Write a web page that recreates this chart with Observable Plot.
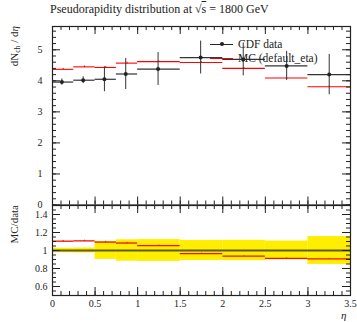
<!DOCTYPE html>
<html>
<head>
<meta charset="utf-8">
<script src="https://cdn.jsdelivr.net/npm/d3@7"></script>
<script src="https://cdn.jsdelivr.net/npm/@observablehq/plot@0.6"></script>
<style>
  body { margin: 0; background: #fff; }
  #wrap { position: relative; width: 357px; height: 322px; overflow: hidden; font-family: "Liberation Serif", serif; color: #222; }
  .abs { position: absolute; white-space: nowrap; }
  .rot { transform-origin: 0 0; transform: rotate(-90deg) translate(-100%, 0); }
  sub { font-size: 70%; vertical-align: -2px; line-height: 0; }
</style>
</head>
<body>
<div id="wrap">
  <div id="main" class="abs" style="left:0;top:0"></div>
  <div id="ratio" class="abs" style="left:0;top:200px"></div>
  <div class="abs" style="left:50px;top:3px;font-size:12px;line-height:13px">Pseudorapidity distribution at √<span style="text-decoration:overline">s</span> = 1800 GeV</div>
  <div class="abs rot" style="left:8px;top:26px;font-size:11px;line-height:12px">dN<sub>ch</sub> / d<i>η</i></div>
  <div class="abs rot" style="left:8px;top:205px;font-size:11px;line-height:12px">MC/data</div>
  <div class="abs" style="left:341px;top:309px;font-size:11px;line-height:12px"><i>η</i></div>
  <div class="abs" style="left:210px;top:43.5px;width:23px;height:1px;background:#222"></div>
  <div class="abs" style="left:219.5px;top:42px;width:4px;height:4px;border-radius:2px;background:#222"></div>
  <div class="abs" style="left:238px;top:38px;font-size:11.5px;line-height:12px">CDF data</div>
  <div class="abs" style="left:210px;top:57.5px;width:23px;height:1px;background:red"></div>
  <div class="abs" style="left:238px;top:52px;font-size:11.5px;line-height:12px">MC (default_eta)</div>
</div>
<script>
// ---- data ----
const binLo   = [0, 0.25, 0.5, 0.75, 1.0, 1.5, 2.0, 2.5, 3.0];
const binHi   = [0.25, 0.5, 0.75, 1.0, 1.5, 2.0, 2.5, 3.0, 3.5];
const dataEta = [0.11, 0.36, 0.61, 0.86, 1.24, 1.74, 2.24, 2.75, 3.25];
const dataVal = [3.96, 4.02, 4.05, 4.22, 4.38, 4.75, 4.69, 4.48, 4.20];
const dataErr = [0.10, 0.11, 0.40, 0.50, 0.53, 0.53, 0.53, 0.47, 0.65];
const mcVal   = [4.37, 4.45, 4.43, 4.57, 4.62, 4.59, 4.40, 4.09, 3.81];
const mcErr   = [0.03, 0.03, 0.03, 0.03, 0.02, 0.02, 0.02, 0.02, 0.02];
const xTicks  = [0, 0.5, 1, 1.5, 2, 2.5, 3, 3.5];
const yTicksMain  = [0, 1, 2, 3, 4, 5];
const yTicksRatio = [0.6, 0.8, 1, 1.2, 1.4];

const rows = binLo.map((lo, i) => ({
  lo, hi: binHi[i], x: dataEta[i], y: dataVal[i], e: dataErr[i],
  mc: mcVal[i], me: mcErr[i],
  r: mcVal[i] / dataVal[i], re: mcErr[i] / dataVal[i], band: dataErr[i] / dataVal[i]
}));

const W = 357, ML = 52, MR = 7;
const FW = W - ML - MR;
const ink = "#222";
const font = "Liberation Serif, serif";
const xMinor = d3.range(0, 3.5001, 0.1).map(v => +v.toFixed(2));

function frameTicks(yMaj, yMin, FH) {
  return [
    Plot.tickY(yMaj, {y: d => d, insetRight: FW - 8, stroke: ink}),
    Plot.tickY(yMin, {y: d => d, insetRight: FW - 4, stroke: ink}),
    Plot.tickY(yMaj, {y: d => d, insetLeft: FW - 8, stroke: ink}),
    Plot.tickY(yMin, {y: d => d, insetLeft: FW - 4, stroke: ink}),
    Plot.tickX(xTicks, {x: d => d, insetTop: FH - 8, stroke: ink}),
    Plot.tickX(xMinor, {x: d => d, insetTop: FH - 4, stroke: ink}),
    Plot.tickX(xTicks, {x: d => d, insetBottom: FH - 8, stroke: ink}),
    Plot.tickX(xMinor, {x: d => d, insetBottom: FH - 4, stroke: ink}),
    Plot.frame({stroke: ink, strokeWidth: 1.2})
  ];
}

// ---- main panel ----
const mainH = 214, mainMT = 26, mainMB = 9.5;
const mainFH = mainH - mainMT - mainMB;
const yMinorMain = d3.range(0, 5.75, 0.2).map(v => +v.toFixed(2));
const main = Plot.plot({
  width: W, height: mainH,
  marginLeft: ML, marginRight: MR, marginTop: mainMT, marginBottom: mainMB,
  style: {background: "transparent", fontFamily: font, fontSize: "10px", color: ink},
  x: {domain: [0, 3.5], axis: null},
  y: {domain: [0, 5.75], axis: null},
  marks: [
    Plot.axisY({ticks: yTicksMain, tickSize: 0, tickPadding: 10, tickFormat: d => d, fontSize: 10, label: null}),
    // MC
    Plot.ruleY(rows, {y: "mc", x1: "lo", x2: "hi", stroke: "red", strokeWidth: 1.1}),
    Plot.ruleX(rows, {x: d => (d.lo + d.hi) / 2, y1: d => d.mc - d.me, y2: d => d.mc + d.me, stroke: "red"}),
    // data
    Plot.ruleY(rows, {y: "y", x1: "lo", x2: "hi", stroke: "#333", strokeWidth: 1.2}),
    Plot.ruleX(rows, {x: "x", y1: d => d.y - d.e, y2: d => d.y + d.e, stroke: "#333", strokeWidth: 1}),
    Plot.dot(rows, {x: "x", y: "y", r: 2, fill: "#222", stroke: null}),
    ...frameTicks(yTicksMain, yMinorMain, mainFH)
  ]
});
document.getElementById("main").append(main);

// ---- ratio panel ----
const rH = 122, rMT = 5, rMB = 27;
const rFH = rH - rMT - rMB;
const yMinorRatio = d3.range(0.5, 1.5001, 0.05).map(v => +v.toFixed(2));
const ratio = Plot.plot({
  width: W, height: rH,
  marginLeft: ML, marginRight: MR, marginTop: rMT, marginBottom: rMB,
  style: {background: "transparent", fontFamily: font, fontSize: "10px", color: ink},
  x: {domain: [0, 3.5], axis: null},
  y: {domain: [0.5, 1.5], axis: null},
  marks: [
    Plot.rect(rows, {x1: "lo", x2: "hi", y1: d => 1 - d.band, y2: d => 1 + d.band, fill: "#ffee00"}),
    Plot.ruleY([1], {stroke: "black", strokeOpacity: 0.62, strokeWidth: 2}),
    Plot.ruleY(rows, {y: "r", x1: "lo", x2: "hi", stroke: "#ee1100", strokeWidth: 1.3}),
    Plot.ruleX(rows, {x: d => (d.lo + d.hi) / 2, y1: d => d.r - d.re, y2: d => d.r + d.re, stroke: "#ee1100"}),
    Plot.axisY({ticks: yTicksRatio, tickSize: 0, tickPadding: 5, tickFormat: d => d, fontSize: 10, label: null}),
    Plot.axisX({ticks: xTicks, tickSize: 0, tickPadding: 4, tickFormat: d => d, fontSize: 10, label: null}),
    ...frameTicks(yTicksRatio, yMinorRatio, rFH)
  ]
});
document.getElementById("ratio").append(ratio);
</script>
</body>
</html>
